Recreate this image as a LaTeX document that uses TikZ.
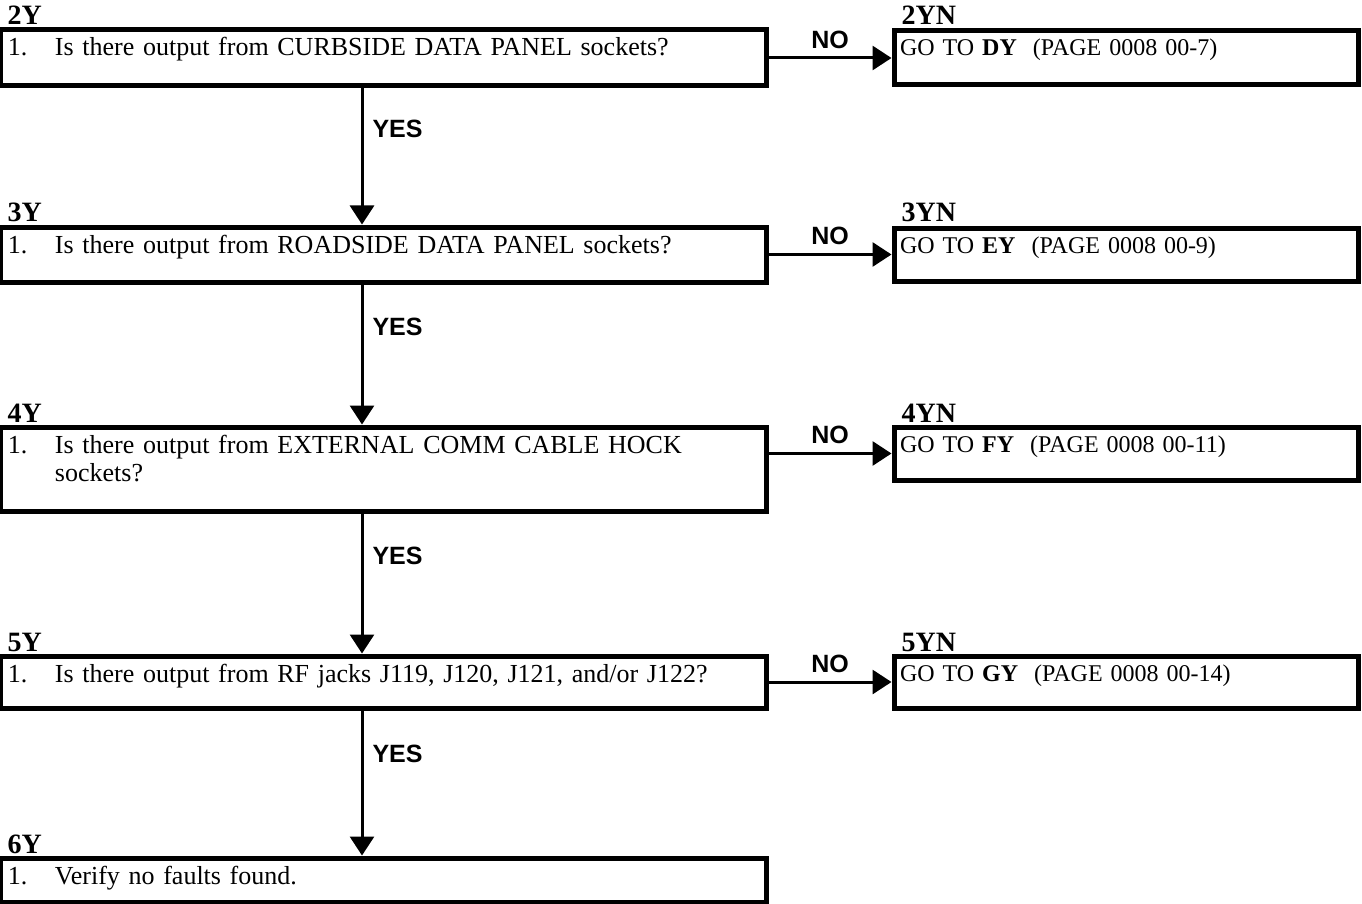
\documentclass[tikz,border=0pt]{standalone}
\usepackage{fontspec}
\setmainfont{Liberation Serif}
\setsansfont{Liberation Sans}
\usetikzlibrary{arrows.meta}
\newcommand{\qitem}[1]{\makebox[47pt][l]{1.}#1}
\tikzset{
  qbox/.style={draw, line width=5pt, anchor=north west, inner xsep=8pt, inner ysep=0pt,
    text width=750pt, align=left, text height=26pt, text depth=#1,
    font=\fontsize{26}{28}\selectfont},
  nbox/.style={qbox=#1, inner xsep=6pt, text width=452pt, text height=25pt,
    font=\fontsize{24}{28}\selectfont},
  tag/.style={anchor=base west, inner sep=0pt, font=\fontsize{28}{32}\selectfont\bfseries},
  flow/.style={line width=3pt, -{Triangle[length=19pt,width=24pt]}},
  arm/.style={inner sep=0pt, font=\fontsize{25}{28}\selectfont\sffamily\bfseries}
}
\begin{document}
\begin{tikzpicture}[x=1pt,y=-1pt]
    \useasboundingbox (0,0) rectangle (1362,904);
    \node[qbox=30pt] (q2) at (-2.5,27.5) {\qitem{Is there output from CURBSIDE DATA PANEL sockets?}};
    \node[qbox=29pt] (q3) at (-2.5,224.5) {\qitem{Is there output from ROADSIDE DATA PANEL sockets?}};
    \node[qbox=58pt] (q4) at (-2.5,424.5) {\qitem{Is there output from EXTERNAL COMM CABLE HOCK}\\\hspace*{47pt}sockets?};
    \node[qbox=26pt] (q5) at (-2.5,653.5) {\qitem{Is there output from RF jacks J119, J120, J121, and/or J122?}};
    \node[qbox=18pt] (q6) at (-2.5,855.5) {\qitem{Verify no faults found.}};
    \node[nbox=29pt] (n2) at (891.5,28.5) {GO TO \textbf{DY}\ \ (PAGE 0008 00-7)};
    \node[nbox=28pt] (n3) at (891.5,225.5) {GO TO \textbf{EY}\ \ (PAGE 0008 00-9)};
    \node[nbox=28pt] (n4) at (891.5,424.5) {GO TO \textbf{FY}\ \ (PAGE 0008 00-11)};
    \node[nbox=27pt] (n5) at (891.5,653.5) {GO TO \textbf{GY}\ \ (PAGE 0008 00-14)};
    \node[tag] (t2) at ([xshift=10pt,yshift=2.5pt]q2.north west) {2Y};
    \node[tag] (t3) at ([xshift=10pt,yshift=2.5pt]q3.north west) {3Y};
    \node[tag] (t4) at ([xshift=10pt,yshift=2.5pt]q4.north west) {4Y};
    \node[tag] (t5) at ([xshift=10pt,yshift=2.5pt]q5.north west) {5Y};
    \node[tag] (t6) at ([xshift=10pt,yshift=2.5pt]q6.north west) {6Y};
    \node[tag] (u2) at ([xshift=10pt,yshift=3.5pt]n2.north west) {2YN};
    \node[tag] (u3) at ([xshift=10pt,yshift=3.5pt]n3.north west) {3YN};
    \node[tag] (u4) at ([xshift=10pt,yshift=2.5pt]n4.north west) {4YN};
    \node[tag] (u5) at ([xshift=10pt,yshift=2.5pt]n5.north west) {5YN};
    \coordinate (spine) at (362,0);
    \draw[flow] (q2.south -| spine) -- node[arm, pos=.3, right=9pt] (y2) {YES} (q3.north -| spine);
    \draw[flow] (q3.south -| spine) -- node[arm, pos=.3, right=9pt] (y3) {YES} (q4.north -| spine);
    \draw[flow] (q4.south -| spine) -- node[arm, pos=.3, right=9pt] (y4) {YES} (q5.north -| spine);
    \draw[flow] (q5.south -| spine) -- node[arm, pos=.3, right=9pt] (y5) {YES} (q6.north -| spine);
    \draw[flow] (q2.east |- n2.west) -- node[arm, above=8pt] (x2) {NO} (n2.west);
    \draw[flow] (q3.east |- n3.west) -- node[arm, above=8pt] (x3) {NO} (n3.west);
    \draw[flow] (q4.east |- n4.west) -- node[arm, above=8pt] (x4) {NO} (n4.west);
    \draw[flow] (q5.east |- n5.west) -- node[arm, above=8pt] (x5) {NO} (n5.west);
\end{tikzpicture}
\end{document}
